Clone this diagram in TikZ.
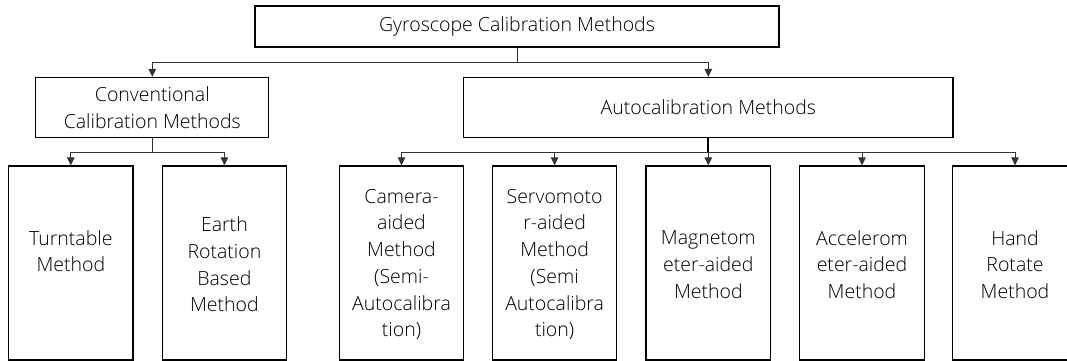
\documentclass[tikz,border=0pt]{standalone}
\usepackage{fontspec}
\setmainfont{Open Sans Light}
\usetikzlibrary{arrows.meta}
\begin{document}
\begin{tikzpicture}[x=1pt,y=-1pt,
  box/.style={draw=black, line width=1.2pt, fill=white, inner sep=0pt, align=center,
    font=\fontsize{19.5}{26.7}\selectfont},
  leaf/.style={box, minimum width=124.5pt, minimum height=194pt},
  lbl/.style={align=center, inner sep=0pt, font=\fontsize{19.5}{26.7}\selectfont},
  trunk/.style={line width=0.9pt, draw=black!80},
  conn/.style={trunk, -{Triangle[width=7.5pt,length=8pt]}}]
\useasboundingbox (0,0) rectangle (1067,361);

% upper levels
\node[box, minimum width=524pt, minimum height=41pt] (top) at (517,26.5) {Gyroscope Calibration Methods};
\node[box, minimum width=233pt, minimum height=60pt] (conv) at (152.3,107.5) {Conventional\\Calibration Methods};
\node[box, minimum width=489.5pt, minimum height=60pt] (auto) at (708.3,107.5) {Autocalibration Methods};

% leaf methods
\node[leaf] (turn)  at (70.8,263)  {};
\node[leaf] (earth) at (224.4,263) {};
\node[leaf] (cam)   at (401.5,263) {};
\node[leaf] (servo) at (554.6,263) {};
\node[leaf] (mag)   at (708.3,263) {};
\node[leaf] (acc)   at (862,263)   {};
\node[leaf] (hand)  at (1015,263)  {};

\node[lbl] (turn-t)  at ([yshift=-1.5pt]turn.center)  {Turntable\\Method\\\mbox{}};
\node[lbl] (earth-t) at ([yshift=-1.5pt]earth.center) {Earth\\Rotation\\Based\\Method};
\node[lbl] (cam-t)   at ([yshift=-1.5pt]cam.center)   {Camera-\\aided\\Method\\(Semi-\\Autocalibra\\tion)};
\node[lbl] (servo-t) at ([yshift=-1.5pt]servo.center) {Servomoto\\r-aided\\Method\\(Semi\\Autocalibra\\tion)};
\node[lbl] (mag-t)   at ([yshift=-1.5pt]mag.center)   {Magnetom\\eter-aided\\Method};
\node[lbl] (acc-t)   at ([yshift=-1.5pt]acc.center)   {Accelerom\\eter-aided\\Method};
\node[lbl] (hand-t)  at ([yshift=-1.5pt]hand.center)  {Hand\\Rotate\\Method};

% connectors
\coordinate (j0) at ([yshift=-15pt]top.south);
\draw[trunk] (top.south) -- (j0);
\draw[conn] (j0) -| (conv.north);
\draw[conn] (j0) -| (auto.north);

\coordinate (j1) at ([yshift=-14pt]conv.south);
\draw[trunk] (conv.south) -- (j1);
\draw[conn] (j1) -| (turn.north);
\draw[conn] (j1) -| (earth.north);

\coordinate (j2) at ([yshift=-14pt]auto.south);
\draw[trunk, line width=1.8pt, draw=black] (auto.south) -- (j2);
\foreach \n in {cam,servo,mag,acc,hand}
  \draw[conn] (j2) -| (\n.north);
\end{tikzpicture}
\end{document}
